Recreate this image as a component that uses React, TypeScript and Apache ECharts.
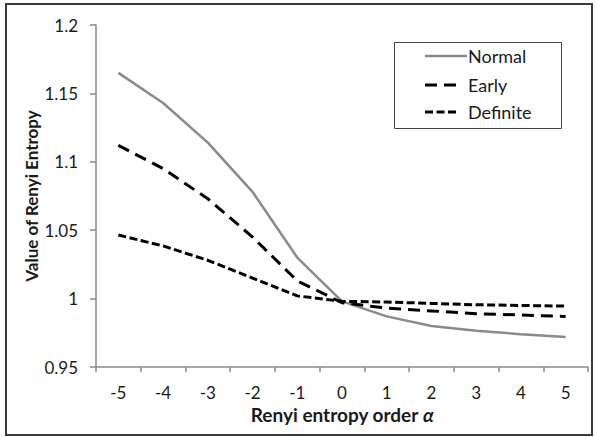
import React, { useEffect, useRef } from "react";
import * as echarts from "echarts";

const categories = ["-5", "-4", "-3", "-2", "-1", "0", "1", "2", "3", "4", "5"];
const normal = [1.165, 1.143, 1.114, 1.078, 1.03, 0.998, 0.987, 0.98, 0.9765, 0.974, 0.972];
const early = [1.112, 1.095, 1.073, 1.045, 1.013, 0.997, 0.993, 0.991, 0.989, 0.988, 0.987];
const definite = [1.0465, 1.0385, 1.028, 1.015, 1.002, 0.998, 0.9975, 0.9965, 0.9955, 0.995, 0.9945];
const seriesNames = ["Normal", "Early", "Definite"];
const xTitle = "Renyi entropy order ";
const xTitleSymbol = "α";
const yTitle = "Value of Renyi Entropy";

const FONT = "Lato, 'Open Sans', sans-serif";
const TXT = "#1a1a1a";
const GRAY = "#8a8a8a";
const EARLY_DASH = [12, 7];
const DEF_DASH = [8, 3.5];

export default function App() {
  const ref = useRef<HTMLDivElement>(null);
  useEffect(() => {
    if (!ref.current) return;
    const chart = echarts.init(ref.current, undefined, { renderer: "svg" });
    const legendRows = [
      { y: 56, stroke: GRAY, width: 2.5, dash: null as number[] | null, x2: 467 },
      { y: 85, stroke: "#000", width: 3, dash: EARLY_DASH, x2: 458 },
      { y: 112, stroke: "#000", width: 3, dash: DEF_DASH, x2: 457 },
    ];
    const legendGraphics: any[] = [];
    legendRows.forEach((r, i) => {
      legendGraphics.push({
        type: "line",
        shape: { x1: 425, y1: r.y, x2: r.x2, y2: r.y },
        style: { stroke: r.stroke, lineWidth: r.width, lineDash: r.dash || undefined },
        z: 11,
        silent: true,
      });
      legendGraphics.push({
        type: "text",
        x: 468,
        y: r.y,
        style: {
          text: seriesNames[i],
          font: `18px ${FONT}`,
          fill: TXT,
          textAlign: "left",
          textVerticalAlign: "middle",
        },
        z: 11,
        silent: true,
      });
    });
    chart.setOption({
      animation: false,
      backgroundColor: "#ffffff",
      grid: { left: 96, right: 7, top: 25, bottom: 70, containLabel: false },
      graphic: [
        {
          type: "rect",
          shape: { x: 6, y: 4, width: 586, height: 431 },
          style: { fill: "none", stroke: "#3a3a3a", lineWidth: 2 },
          silent: true,
        },
        {
          type: "rect",
          shape: { x: 394.5, y: 42.5, width: 167, height: 86 },
          style: { fill: "#ffffff", stroke: "#444444", lineWidth: 1 },
          z: 10,
          silent: true,
        },
        ...legendGraphics,
        {
          type: "text",
          x: 342,
          y: 414,
          style: {
            text: `${xTitle}{a|${xTitleSymbol}}`,
            font: `bold 19px ${FONT}`,
            fill: TXT,
            textAlign: "center",
            textVerticalAlign: "middle",
            rich: { a: { font: `italic bold 19px ${FONT}`, fill: TXT } },
          },
          silent: true,
        },
        {
          type: "text",
          x: 31,
          y: 196,
          rotation: Math.PI / 2,
          style: {
            text: yTitle,
            font: `bold 17px ${FONT}`,
            fill: TXT,
            textAlign: "center",
            textVerticalAlign: "middle",
          },
          silent: true,
        },
      ],
      xAxis: {
        type: "category",
        data: categories,
        boundaryGap: true,
        axisLine: { lineStyle: { color: GRAY, width: 1.5 } },
        axisTick: { show: true, length: 5, lineStyle: { color: GRAY, width: 1.5 } },
        axisLabel: { fontFamily: FONT, fontSize: 17, color: TXT, margin: 17 },
        splitLine: { show: false },
      },
      yAxis: {
        type: "value",
        min: 0.95,
        max: 1.2,
        interval: 0.05,
        axisLine: { show: true, lineStyle: { color: GRAY, width: 1.5 } },
        axisTick: { show: true, length: 6, lineStyle: { color: GRAY, width: 1.5 } },
        axisLabel: {
          fontFamily: FONT,
          fontSize: 17,
          color: TXT,
          margin: 18,
          formatter: (v: number) => String(parseFloat(v.toFixed(2))),
        },
        splitLine: { show: false },
      },
      series: [
        {
          name: seriesNames[0],
          type: "line",
          data: normal,
          showSymbol: false,
          symbol: "none",
          lineStyle: { color: GRAY, width: 2.5 },
        },
        {
          name: seriesNames[1],
          type: "line",
          data: early,
          showSymbol: false,
          symbol: "none",
          lineStyle: { color: "#000000", width: 3, type: EARLY_DASH },
        },
        {
          name: seriesNames[2],
          type: "line",
          data: definite,
          showSymbol: false,
          symbol: "none",
          lineStyle: { color: "#000000", width: 3, type: DEF_DASH },
        },
      ],
    });
    return () => chart.dispose();
  }, []);
  return <div ref={ref} style={{ position: "fixed", left: 0, top: 0, width: 595, height: 437 }} />;
}
